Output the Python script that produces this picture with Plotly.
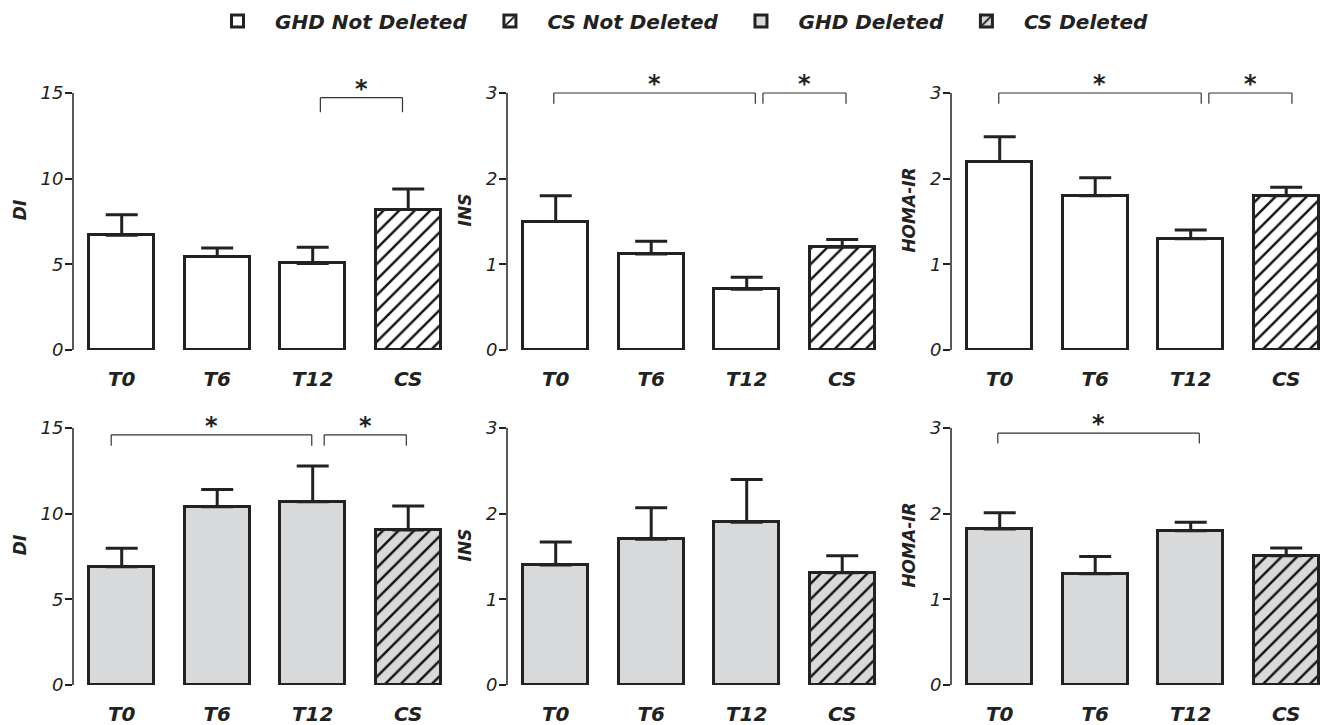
import plotly.graph_objects as go

# ---------------- data ----------------
categories = ["T0", "T6", "T12", "CS"]
metric_titles = ["DI", "INS", "HOMA-IR"]
metric_tickvals = [[0, 5, 10, 15], [0, 1, 2, 3], [0, 1, 2, 3]]
metric_top = [15, 3, 3]

group_names = ["GHD Not Deleted", "CS Not Deleted", "GHD Deleted", "CS Deleted"]

# Not deleted (top row)
nd_di_mean = [6.7, 5.45, 5.05, 8.2]
nd_di_sem = [1.2, 0.5, 0.95, 1.2]
nd_ins_mean = [1.5, 1.12, 0.71, 1.2]
nd_ins_sem = [0.3, 0.15, 0.14, 0.09]
nd_homa_mean = [2.2, 1.8, 1.3, 1.8]
nd_homa_sem = [0.29, 0.21, 0.1, 0.1]

# Deleted (bottom row)
d_di_mean = [6.9, 10.4, 10.7, 9.05]
d_di_sem = [1.08, 1.01, 2.08, 1.4]
d_ins_mean = [1.4, 1.7, 1.9, 1.31]
d_ins_sem = [0.27, 0.37, 0.5, 0.2]
d_homa_mean = [1.82, 1.3, 1.8, 1.51]
d_homa_sem = [0.19, 0.2, 0.1, 0.09]

# significance brackets per panel: (left, right, level, leg end)
brackets_nd_di = [(2.08, 2.94, 14.73, 13.88)]
brackets_nd_ins = [(-0.02, 2.09, 3.0, 2.875), (2.17, 3.04, 3.0, 2.875)]
brackets_nd_homa = [(-0.01, 2.11, 3.0, 2.875), (2.19, 3.06, 3.0, 2.875)]
brackets_d_di = [(-0.11, 1.99, 14.6, 13.97), (2.12, 2.98, 14.6, 13.97)]
brackets_d_ins = []
brackets_d_homa = [(-0.02, 2.09, 2.94, 2.82)]

# ---------------- styling ----------------
FONT = "DejaVu Sans"
INK = "#222222"
FILL_ND = "#ffffff"
FILL_D = "#d8d9db"

panels = [
    dict(mean=nd_di_mean, sem=nd_di_sem, m=0, row=0, br=brackets_nd_di),
    dict(mean=nd_ins_mean, sem=nd_ins_sem, m=1, row=0, br=brackets_nd_ins),
    dict(mean=nd_homa_mean, sem=nd_homa_sem, m=2, row=0, br=brackets_nd_homa),
    dict(mean=d_di_mean, sem=d_di_sem, m=0, row=1, br=brackets_d_di),
    dict(mean=d_ins_mean, sem=d_ins_sem, m=1, row=1, br=brackets_d_ins),
    dict(mean=d_homa_mean, sem=d_homa_sem, m=2, row=1, br=brackets_d_homa),
]

W, H = 1323, 725
col_left_px = [73, 507, 951]
panel_w_px = 369.6
x_range = [-0.51, 3.36]
# rows: (pixel of zero, pixel of top tick)
row_px = [(350, 93), (685, 428)]
extra_px = 23  # headroom above top tick for brackets

fig = go.Figure()
layout = dict(
    template="none",
    width=W, height=H, autosize=False,
    margin=dict(l=0, r=0, t=0, b=0, pad=0),
    paper_bgcolor="white", plot_bgcolor="white",
    barmode="overlay", bargap=0,
    font=dict(family=FONT, color=INK),
    showlegend=True,
    legend=dict(
        orientation="h", x=200 / W, xanchor="left", y=1 - 21 / H, yanchor="middle",
        font=dict(family=FONT, size=20, style="italic", weight="bold", color=INK),
        itemwidth=65, tracegroupgap=0, bgcolor="rgba(0,0,0,0)",
    ),
)
shapes = []
annotations = []

for k, p in enumerate(panels):
    ax = "" if k == 0 else str(k + 1)
    xname, yname = "x" + ax, "y" + ax
    row = p["row"]
    col = p["m"]
    zero_px, top_px = row_px[row]
    top_val = metric_top[col]
    scale = (zero_px - top_px) / top_val
    y_hi = top_val + extra_px / scale
    dom_y = [1 - zero_px / H, 1 - (top_px - extra_px) / H]
    dom_x = [col_left_px[col] / W, (col_left_px[col] + panel_w_px) / W]

    fill = FILL_ND if row == 0 else FILL_D
    names = group_names[0:2] if row == 0 else group_names[2:4]
    show = (col == 0)

    # GHD bars (T0, T6, T12)
    fig.add_trace(go.Bar(
        x=[0, 1, 2], y=p["mean"][:3], width=0.68,
        name=names[0], legendgroup=names[0], showlegend=show,
        marker=dict(color=fill, line=dict(color=INK, width=3)),
        error_y=dict(type="data", symmetric=False, array=p["sem"][:3],
                     arrayminus=[0, 0, 0], color=INK, thickness=3, width=16),
        xaxis=xname, yaxis=yname,
    ))
    # CS bar
    fig.add_trace(go.Bar(
        x=[3], y=p["mean"][3:], width=0.68,
        name=names[1], legendgroup=names[1], showlegend=show,
        marker=dict(color=fill, line=dict(color=INK, width=3),
                    pattern=dict(shape="/", size=11, solidity=0.22,
                                 fgcolor="#111111", fgopacity=1, bgcolor=fill,
                                 fillmode="replace")),
        error_y=dict(type="data", symmetric=False, array=p["sem"][3:],
                     arrayminus=[0], color=INK, thickness=3, width=16),
        xaxis=xname, yaxis=yname,
    ))

    layout["xaxis" + ax] = dict(
        domain=dom_x, anchor=yname, range=x_range, automargin=False,
        tickmode="array", tickvals=[0, 1, 2, 3], ticktext=categories,
        showline=False, showgrid=False, zeroline=False, ticks="",
        ticklabelstandoff=15,
        tickfont=dict(family=FONT, size=20, style="italic", weight="bold", color=INK),
    )
    layout["yaxis" + ax] = dict(
        domain=dom_y, anchor=xname, range=[0, y_hi], automargin=False,
        tickmode="array", tickvals=metric_tickvals[col],
        ticks="outside", ticklen=7, tickwidth=1.5, tickcolor=INK,
        ticklabelstandoff=-2,
        showline=False, showgrid=False, zeroline=False,
        tickfont=dict(family=FONT, size=18, style="italic", color=INK),
        title=dict(text=metric_titles[col], standoff=9,
                   font=dict(family=FONT, size=17, style="italic", weight="bold", color=INK)),
    )
    # y axis line from 0 up to the top tick only
    shapes.append(dict(type="line", xref=xname + " domain", yref=yname,
                       x0=0, x1=0, y0=0, y1=top_val,
                       line=dict(color=INK, width=1.5)))
    # significance brackets
    for (xl, xr, lvl, leg) in p["br"]:
        for seg in [(xl, lvl, xr, lvl), (xl, lvl, xl, leg), (xr, lvl, xr, leg)]:
            shapes.append(dict(type="line", xref=xname, yref=yname,
                               x0=seg[0], y0=seg[1], x1=seg[2], y1=seg[3],
                               line=dict(color="#333333", width=1.2)))
        annotations.append(dict(xref=xname, yref=yname, x=(xl + xr) / 2, y=lvl,
                                text="*", showarrow=False, yanchor="bottom",
                                yshift=-7,
                                font=dict(family=FONT, size=24, weight="bold", color=INK)))

layout["shapes"] = shapes
layout["annotations"] = annotations
fig.update_layout(**layout)

page_fix = (
    "(function(){"
    "var de=document.documentElement,b=document.body;"
    "de.style.margin='0';de.style.padding='0';de.style.overflow='hidden';de.style.height='725px';"
    "b.style.margin='0';b.style.padding='0';b.style.overflow='hidden';b.style.height='725px';"
    "var gd=document.querySelector('.plotly-graph-div');"
    "if(gd){gd.style.position='absolute';gd.style.left='0px';gd.style.top='0px';}"
    "})();"
)
fig.write_html("out.html", config={"displayModeBar": False}, post_script=page_fix)
